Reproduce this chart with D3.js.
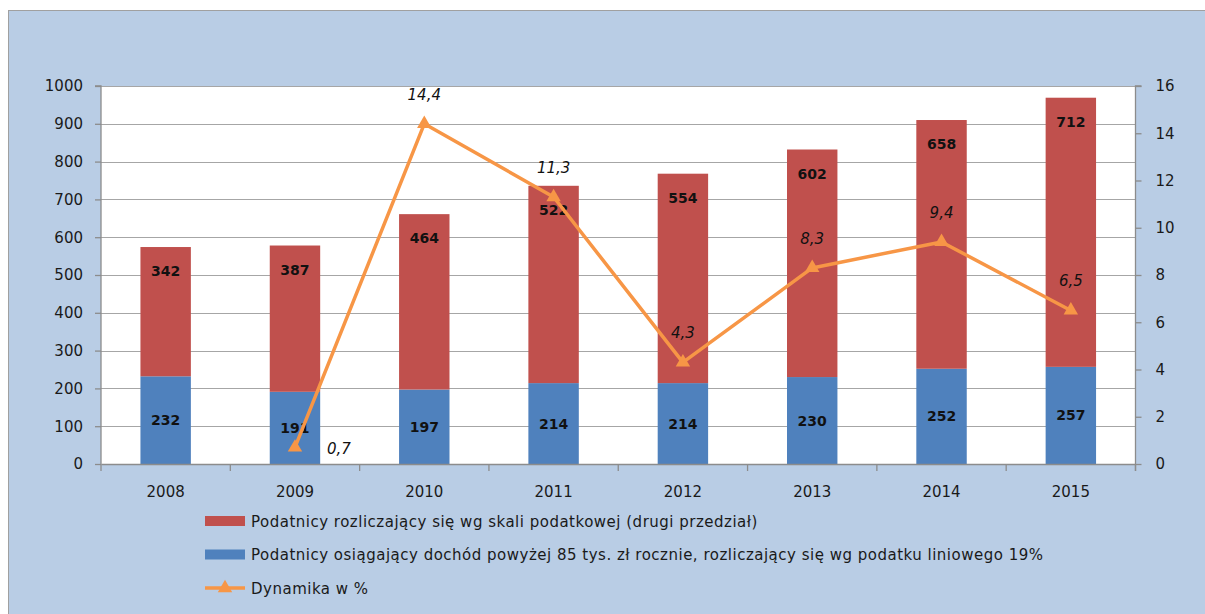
<!DOCTYPE html>
<html><head><meta charset="utf-8">
<script src="https://cdn.jsdelivr.net/npm/d3@7"></script>
<style>html,body{margin:0;padding:0;background:#fff;}svg{display:block;}</style>
</head><body>
<script>
const years = ["2008","2009","2010","2011","2012","2013","2014","2015"];
const linear19 = [232,191,197,214,214,230,252,257];
const scaleTax = [342,387,464,522,554,602,658,712];
const dynamics = [null,0.7,14.4,11.3,4.3,8.3,9.4,6.5];
const leftTicks = [0,100,200,300,400,500,600,700,800,900,1000];
const rightTicks = [0,2,4,6,8,10,12,14,16];
const legendLabels = [
  "Podatnicy rozliczający się wg skali podatkowej (drugi przedział)",
  "Podatnicy osiągający dochód powyżej 85 tys. zł rocznie, rozliczający się wg podatku liniowego 19%",
  "Dynamika w %"
];

const W=1205,H=614;
const C={red:"#c0504d",blue:"#4f81bd",orange:"#f79646",bg:"#b9cde5",grid:"#a6a6a6"};
const svg=d3.select("body").append("svg").attr("width",W).attr("height",H);
svg.append("rect").attr("width",W).attr("height",H).attr("fill","#fff");
svg.append("rect").attr("x",8.5).attr("y",10.5).attr("width",W).attr("height",H).attr("fill",C.bg).attr("stroke","#a0a0a0");

const L=101,R=1135.5,T=86,B=464;
const x=d3.scaleBand().domain(years).range([L,R]).paddingInner(0.61).paddingOuter(0.305);
const xb=d3.scaleBand().domain(years).range([L,R]);
const y=d3.scaleLinear().domain([0,1000]).range([B,T]);
const y2=d3.scaleLinear().domain([0,16]).range([B,T]);
svg.append("rect").attr("x",L).attr("y",T).attr("width",R-L).attr("height",B-T).attr("fill","#fff");

// gridlines
svg.append("g").selectAll("line").data(leftTicks.filter(d=>d>0)).join("line")
  .attr("x1",L).attr("x2",R).attr("y1",d=>Math.round(y(d))+0.5).attr("y2",d=>Math.round(y(d))+0.5)
  .attr("stroke",C.grid).attr("stroke-width",1.2);

const font="'DejaVu Sans', Verdana, sans-serif";
// bars
const stack=years.map((yr,i)=>({yr,b:linear19[i],r:scaleTax[i]}));
svg.append("g").selectAll("rect").data(stack).join("rect")
  .attr("x",d=>x(d.yr)).attr("width",x.bandwidth())
  .attr("y",d=>y(d.b)).attr("height",d=>y(0)-y(d.b)).attr("fill",C.blue);
svg.append("g").selectAll("rect").data(stack).join("rect")
  .attr("x",d=>x(d.yr)).attr("width",x.bandwidth())
  .attr("y",d=>y(d.b+d.r)).attr("height",d=>y(d.b)-y(d.b+d.r)).attr("fill",C.red);

// bar labels
svg.append("g").selectAll("text").data(stack).join("text")
  .attr("x",d=>x(d.yr)+x.bandwidth()/2).attr("y",d=>(y(d.b)+y(0))/2+5)
  .attr("text-anchor","middle").attr("font-family",font).attr("font-weight","bold").attr("font-size",14)
  .attr("fill","#111").text(d=>d.b);
svg.append("g").selectAll("text").data(stack).join("text")
  .attr("x",d=>x(d.yr)+x.bandwidth()/2).attr("y",d=>y(d.b+d.r)+29)
  .attr("text-anchor","middle").attr("font-family",font).attr("font-weight","bold").attr("font-size",14)
  .attr("fill","#111").text(d=>d.r);

// axes
const axL=svg.append("g").attr("transform",`translate(${L},0)`).call(d3.axisLeft(y).tickValues(leftTicks).tickFormat(d3.format("d")).tickSize(6).tickPadding(12));
const axR=svg.append("g").attr("transform",`translate(${R},0)`).call(d3.axisRight(y2).tickValues(rightTicks).tickFormat(d3.format("d")).tickSize(6).tickPadding(14));
const axB=svg.append("g").attr("transform",`translate(0,${B})`).call(d3.axisBottom(xb).tickSize(0).tickPadding(22));
[axL,axR,axB].forEach(a=>{
  a.selectAll("path").attr("stroke","#8c8c8c").attr("stroke-width",1.3);
  a.selectAll("line").attr("stroke","#8c8c8c").attr("stroke-width",1.3);
  a.selectAll("text").attr("font-family",font).attr("font-size",15).attr("fill","#1a1a1a");
});
axR.select("path").attr("d",`M6,${T}H0V${B+7}`);
axL.select("path").attr("d",`M-6,${T}H0V${B}`);
// category boundary ticks on bottom axis
svg.append("g").selectAll("line").data(years.map((d,i)=>i).concat([years.length])).join("line")
  .attr("x1",i=>L+i*xb.step()).attr("x2",i=>L+i*xb.step()).attr("y1",B).attr("y2",B+7)
  .attr("stroke","#8c8c8c").attr("stroke-width",1.3);

// line
const pts=years.map((yr,i)=>({yr,v:dynamics[i]})).filter(d=>d.v!==null);
const cx=d=>xb(d.yr)+xb.bandwidth()/2;
svg.append("path").datum(pts).attr("fill","none").attr("stroke",C.orange).attr("stroke-width",3.5)
  .attr("stroke-linejoin","round")
  .attr("d",d3.line().x(cx).y(d=>y2(d.v)));
const tri=d3.symbol().type(d3.symbolTriangle).size(90);
svg.append("g").selectAll("path").data(pts).join("path")
  .attr("transform",d=>`translate(${cx(d)},${y2(d.v)})`).attr("d",tri).attr("fill",C.orange);
const fmt=v=>String(v).replace(".",",");
svg.append("g").selectAll("text").data(pts).join("text")
  .attr("x",d=>d.v<2?cx(d)+44:cx(d))
  .attr("y",d=>d.v<2?y2(d.v)+7:y2(d.v)-24)
  .attr("text-anchor","middle").attr("font-family",font).attr("font-style","italic").attr("font-size",15)
  .attr("fill","#111").text(d=>fmt(d.v));

// legend
const lg=svg.append("g").attr("transform","translate(205,0)");
const rows=[{c:C.red,t:legendLabels[0],k:"bar"},{c:C.blue,t:legendLabels[1],k:"bar"},{c:C.orange,t:legendLabels[2],k:"line"}];
rows.forEach((r,i)=>{
  const cy=521+i*33.5;
  if(r.k==="bar"){
    lg.append("rect").attr("x",0).attr("y",cy-5).attr("width",40).attr("height",10).attr("fill",r.c);
  } else {
    lg.append("line").attr("x1",0).attr("x2",40).attr("y1",cy).attr("y2",cy).attr("stroke",r.c).attr("stroke-width",3.5);
    lg.append("path").attr("transform",`translate(20,${cy})`).attr("d",tri).attr("fill",r.c);
  }
  lg.append("text").attr("x",46).attr("y",cy+5.5).attr("font-family",font).attr("font-size",15)
    .attr("letter-spacing",0.5).attr("fill","#1a1a1a").text(r.t);
});
</script>
</body></html>
